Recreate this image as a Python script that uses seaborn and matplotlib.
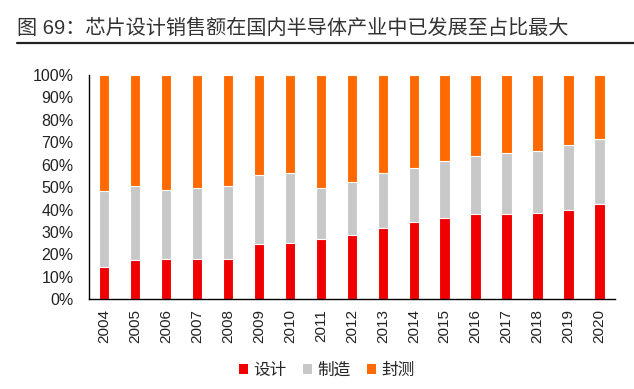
import numpy as np
import pandas as pd
import matplotlib
matplotlib.use('Agg')
import matplotlib.pyplot as plt
from matplotlib.patches import Patch
from matplotlib.lines import Line2D
import seaborn as sns

# shares of China's semiconductor industry sales (%)
years = ['2004', '2005', '2006', '2007', '2008', '2009', '2010', '2011', '2012',
         '2013', '2014', '2015', '2016', '2017', '2018', '2019', '2020']
design = [14.5, 17.3, 18.0, 17.7, 18.0, 24.4, 25.0, 27.0, 28.6,
          31.9, 34.4, 36.2, 37.9, 37.9, 38.5, 39.9, 42.6]
manufacture = [33.8, 33.2, 30.9, 31.9, 32.5, 30.9, 31.2, 22.5, 23.6,
               24.3, 24.2, 25.6, 25.9, 27.2, 27.5, 28.8, 28.8]
package = [51.7, 49.5, 51.1, 50.4, 49.5, 44.7, 43.8, 50.5, 47.8,
           43.8, 41.4, 38.2, 36.2, 34.9, 34.0, 31.3, 28.6]
series_names = ['设计', '制造', '封测']
colors = ['#f00000', '#c8c8c8', '#ff6a00']

title = '图 69：芯片设计销售额在国内半导体产业中已发展至占比最大'

df = pd.DataFrame({'year': years, 'design': design,
                   'manufacture': manufacture, 'package': package})
df['cum1'] = df['design']
df['cum2'] = df['design'] + df['manufacture']
df['cum3'] = df['cum2'] + df['package']

sns.set_style('white')
plt.rcParams['font.family'] = ['Liberation Sans', 'Noto Sans CJK SC', 'DejaVu Sans']

fig = plt.figure(figsize=(6.34, 3.89), dpi=100)
ax = fig.add_axes([0.140, 0.231, 0.830, 0.576])

# stacked bars drawn as overlapping cumulative bars (tallest first)
for col, c in zip(['cum3', 'cum2', 'cum1'], colors[::-1]):
    sns.barplot(data=df, x='year', y=col, color=c, width=0.34,
                edgecolor='white', linewidth=0.8, saturation=1, ax=ax)

ax.set_ylim(0, 100)
ax.set_xlim(-0.5, len(years) - 0.5)
ax.set_yticks(np.arange(0, 101, 10))
ax.set_yticklabels([f'{v}%' for v in range(0, 101, 10)], fontsize=11.5, color='#222222')
ax.set_xticks(range(len(years)))
ax.set_xticklabels(years, rotation=90, fontsize=11, color='#222222')
ax.tick_params(axis='x', length=0, pad=7)
ax.set_xticks(np.arange(0.5, len(years) - 0.5, 1), minor=True)
ax.tick_params(axis='x', which='minor', direction='in', length=3, color='black', width=1)
ax.tick_params(axis='y', direction='in', length=3, color='black', width=1, pad=11)
ax.set_xlabel('')
ax.set_ylabel('')

for s in ['top', 'right']:
    ax.spines[s].set_visible(False)
for s in ['left', 'bottom']:
    ax.spines[s].set_color('black')
    ax.spines[s].set_linewidth(1.0)

handles = [Patch(facecolor=c, edgecolor='none') for c in colors]
fig.legend(handles, series_names, loc='center', bbox_to_anchor=(0.515, 0.048),
           ncol=3, frameon=False, fontsize=12, handlelength=0.55, handleheight=0.55,
           handletextpad=0.3, columnspacing=1.0)

fig.text(0.027, 0.928, title, fontsize=14.5, color='#333333', va='center', ha='left')
fig.add_artist(Line2D([0.027, 1.0], [0.889, 0.889], transform=fig.transFigure,
                      color='#222222', lw=1.6))

fig.savefig('out.png', dpi=100)
